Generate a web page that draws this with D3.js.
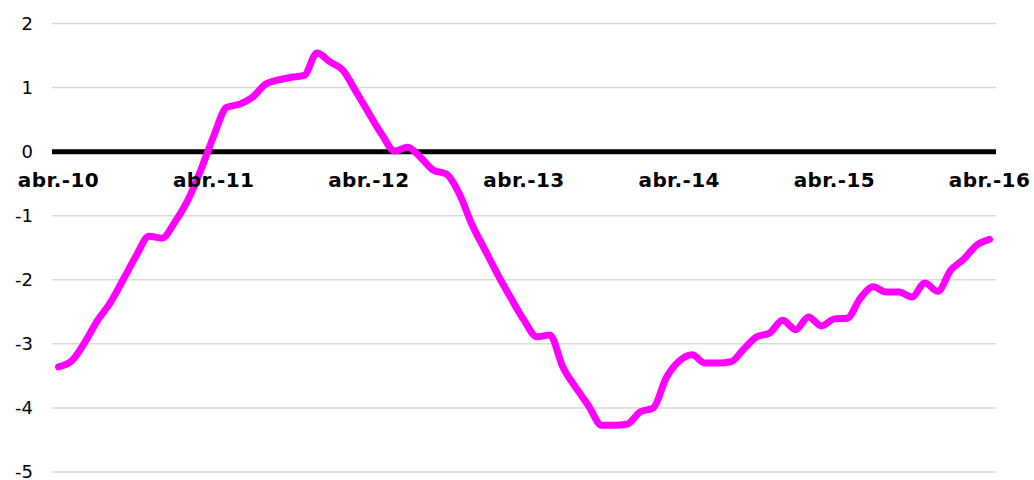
<!DOCTYPE html>
<html>
<head>
<meta charset="utf-8">
<script src="https://cdn.jsdelivr.net/npm/d3@7"></script>
<style>
	body {margin: 0; background: #fff;}
	.ylab {font-family: "DejaVu Sans", Verdana, sans-serif; font-size: 18px; fill: #000;}
	.xlab {font-family: "DejaVu Sans", Verdana, sans-serif; font-size: 20px; font-weight: bold; letter-spacing: 0.4px; fill: #000;}
</style>
</head>
<body>
<div id="chart"></div>
<script>
//setup spacing size
var svg_w = 1034;
var svg_h = 480;
var margin = {top: 23.5, right: 38, bottom: 8, left: 52};
var width = svg_w - margin.left - margin.right;
var height = svg_h - margin.top - margin.bottom;

//data: monthly, abr.-10 .. abr.-16
var years = ["10", "11", "12", "13", "14", "15", "16"];
var monthNames = ["abr.", "may.", "jun.", "jul.", "ago.", "sep.", "oct.", "nov.", "dic.", "ene.", "feb.", "mar."];
var values = [
	-3.36, -3.27, -2.99, -2.64, -2.36, -2.00, -1.63, -1.32, -1.35, -1.10, -0.76, -0.29,
	0.24, 0.69, 0.74, 0.85, 1.05, 1.12, 1.16, 1.19, 1.54, 1.40, 1.27, 0.94,
	0.60, 0.27, 0.01, 0.07, -0.09, -0.29, -0.35, -0.66, -1.15, -1.54, -1.93, -2.29,
	-2.63, -2.89, -2.86, -3.36, -3.68, -3.97, -4.27, -4.27, -4.25, -4.06, -4.00, -3.53,
	-3.27, -3.17, -3.30, -3.30, -3.28, -3.08, -2.89, -2.83, -2.63, -2.78, -2.58, -2.72,
	-2.61, -2.60, -2.29, -2.11, -2.19, -2.19, -2.27, -2.05, -2.18, -1.85, -1.68, -1.46,
	-1.37
];
var yTicks = [2, 1, 0, -1, -2, -3, -4, -5];

//build month categories from the arrays
var categories = values.map(function(d, i) {
	var yr = +years[0] + Math.floor((i + 3) / 12);
	return monthNames[i % 12] + "-" + yr;
});
var dataset = values.map(function(d, i) { return {cat: categories[i], value: d}; });

var svg = d3.select("#chart")
	.append("svg")
	.attr("width", svg_w)
	.attr("height", svg_h);

var g = svg.append("g")
	.attr("transform", "translate(" + margin.left + "," + margin.top + ")");

//scales
var xScale = d3.scaleBand()
	.domain(categories)
	.range([0, width]);

var yScale = d3.scaleLinear()
	.domain([-5, 2])
	.range([height, 0]);

//gridlines
g.selectAll(".grid")
	.data(yTicks.filter(function(d) { return d !== 0; }))
	.enter()
	.append("line")
	.attr("class", "grid")
	.attr("x1", 0)
	.attr("x2", width)
	.attr("y1", function(d) { return yScale(d); })
	.attr("y2", function(d) { return yScale(d); })
	.attr("stroke", "#d9d9d9")
	.attr("stroke-width", 1.5);

//y axis labels
var yAxis = g.append("g")
	.call(d3.axisLeft(yScale).tickValues(yTicks).tickSize(0).tickPadding(19).tickFormat(d3.format("d")));
yAxis.select(".domain").remove();
yAxis.selectAll("text")
	.attr("class", "ylab")
	.attr("font-family", null)
	.attr("font-size", null)
	.text(function(d) { return d < 0 ? "-" + Math.abs(d) : d; });

//zero line
g.append("line")
	.attr("x1", 0)
	.attr("x2", width)
	.attr("y1", yScale(0))
	.attr("y2", yScale(0))
	.attr("stroke", "#000")
	.attr("stroke-width", 5);

//line
var line = d3.line()
	.x(function(d) { return xScale(d.cat) + xScale.bandwidth() / 2; })
	.y(function(d) { return yScale(d.value); })
	.curve(d3.curveMonotoneX);

g.append("path")
	.datum(dataset)
	.attr("d", line)
	.attr("fill", "none")
	.attr("stroke", "#ff00ff")
	.attr("stroke-width", 7)
	.attr("stroke-linecap", "round")
	.attr("stroke-linejoin", "round");

//x labels, on top of the line
var xAxis = g.append("g")
	.attr("transform", "translate(0," + yScale(0) + ")")
	.call(d3.axisBottom(xScale)
		.tickValues(categories.filter(function(d, i) { return i % 12 === 0; }))
		.tickSize(0)
		.tickPadding(21));
xAxis.select(".domain").remove();
xAxis.selectAll("text")
	.attr("class", "xlab")
	.attr("font-family", null)
	.attr("font-size", null);
</script>
</body>
</html>
